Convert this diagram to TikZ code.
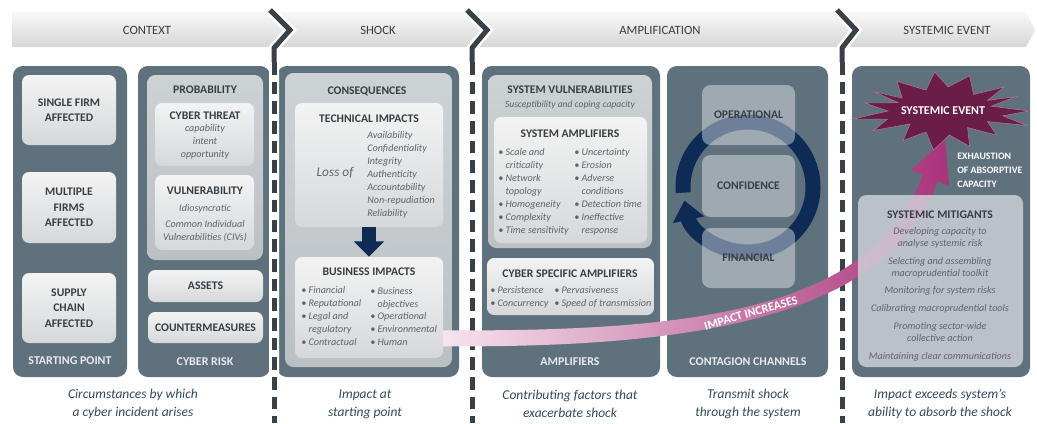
\documentclass[tikz,border=0pt]{standalone}
\usepackage{fontspec}
\setmainfont{Carlito}
\usetikzlibrary{arrows.meta,calc}

\definecolor{slate}{HTML}{5F717D}
\definecolor{boxtop}{HTML}{F3F3F3}
\definecolor{boxbot}{HTML}{D5D8DA}
\definecolor{midtop}{HTML}{CDD2D5}
\definecolor{midbot}{HTML}{BAC0C4}
\definecolor{mitfill}{HTML}{D3D7DA}
\definecolor{navyc}{HTML}{0D2B55}
\definecolor{burstc}{HTML}{6A1D46}
\definecolor{pinklight}{HTML}{F7E3EE}
\definecolor{pinkmid}{HTML}{DB93BD}
\definecolor{pinkdark}{HTML}{A8337A}
\definecolor{titletext}{HTML}{373E44}
\definecolor{itemtext}{HTML}{5E6469}
\definecolor{labeltext}{HTML}{E9ECEE}
\definecolor{captext}{HTML}{34495F}
\definecolor{chev}{HTML}{394047}
\definecolor{bantop}{HTML}{F8F8F8}
\definecolor{banbot}{HTML}{D6D6D6}

\newcommand{\pu}{0.025cm}
\newcommand{\bu}{\textbullet\ }
\newcommand{\bi}{\hphantom{\textbullet\ }}

\tikzset{
  panel/.style={fill=slate,rounded corners=7pt},
  lightbox/.style={top color=boxtop,bottom color=boxbot,rounded corners=5pt,inner sep=0pt},
  midbox/.style={top color=midtop,bottom color=midbot,rounded corners=6pt,inner sep=0pt},
  glassbox/.style={fill=white,fill opacity=0.4,text opacity=1,rounded corners=6pt,
    minimum width=93*\pu,minimum height=60*\pu,inner sep=0pt,
    font=\fontsize{8.3}{11}\selectfont\bfseries,text=titletext},
  ttl/.style={font=\fontsize{8.3}{11}\selectfont\bfseries,text=titletext,align=center,inner sep=0pt},
  itm/.style={font=\fontsize{7.2}{9.2}\selectfont\itshape,text=itemtext,align=center,inner sep=0pt},
  lst/.style={itm,align=left,anchor=west},
  plabel/.style={font=\fontsize{8.5}{11}\selectfont\bfseries,text=labeltext,inner sep=0pt},
  bandtext/.style={font=\fontsize{9}{11}\selectfont,text=titletext,inner sep=0pt},
  capt/.style={font=\fontsize{9.6}{12.8}\selectfont\itshape,text=captext,align=center,inner sep=0pt},
  whitetext/.style={font=\fontsize{8}{10}\selectfont\bfseries,text=white,inner sep=0pt},
  chevline/.style={chev,line width=5*\pu,line join=miter},
  chevback/.style={white,line width=10*\pu,line join=miter},
  divider/.style={chev,line width=5*\pu,dash pattern=on 9pt off 5pt},
}

\begin{document}
\begin{tikzpicture}[x=0.025cm,y=-0.025cm]
  \useasboundingbox (0,0) rectangle (1037,423);

  % banner
  \shade[top color=bantop,bottom color=banbot] (12,12)--(1026,12)--(1035,30)--(1026,47)--(12,47)--cycle;
  \node[bandtext] (context) at (147,30) {CONTEXT};
  \node[bandtext] (shock) at (378,30) {SHOCK};
  \node[bandtext] (amplification) at (660,30) {AMPLIFICATION};
  \node[bandtext] (sysevent) at (947,30) {SYSTEMIC EVENT};

  % panels
  \fill[panel] (13,66) rectangle (127,377);
  \fill[panel] (138,66) rectangle (270,377);
  \fill[panel] (277,66) rectangle (459,377);
  \fill[panel] (482,66) rectangle (660,377);
  \fill[panel] (667,66) rectangle (828,377);
  \fill[panel] (852,66) rectangle (1030,377);

  % dividers
  \draw[chevback] (270,10)--(290,30)--(274,48)--(274,423);
  \draw[chevline] (270,10)--(290,30)--(274,48)--(274,62);
  \draw[divider] (274,62)--(274,423);
  \draw[chevback] (467,10)--(487,30)--(472,48)--(472,423);
  \draw[chevline] (467,10)--(487,30)--(472,48)--(472,62);
  \draw[divider] (472,62)--(472,423);
  \draw[chevback] (837,10)--(856,30)--(842,48)--(842,423);
  \draw[chevline] (837,10)--(856,30)--(842,48)--(842,62);
  \draw[divider] (842,62)--(842,423);

  % starting point
  \node[lightbox,ttl,minimum width=94*\pu,minimum height=70*\pu] (single) at (69,110) {SINGLE FIRM\\AFFECTED};
  \node[lightbox,ttl,minimum width=94*\pu,minimum height=71*\pu] (multiple) at (69,207.5) {MULTIPLE\\FIRMS\\AFFECTED};
  \node[lightbox,ttl,minimum width=94*\pu,minimum height=70*\pu] (supply) at (69,308) {SUPPLY\\CHAIN\\AFFECTED};
  \node[plabel] (startlabel) at (70,361) {STARTING POINT};

  % cyber risk
  \node[midbox,minimum width=116*\pu,minimum height=185*\pu] (prob) at (205,167.5) {};
  \node[ttl] (prob-title) at (205,90) {PROBABILITY};
  \node[lightbox,minimum width=99*\pu,minimum height=63*\pu] (threat) at (204.5,134.5) {};
  \node[ttl] (threat-title) at (205,116) {CYBER THREAT};
  \node[itm] (threat-list) at (205,142) {capability\\intent\\opportunity};
  \node[lightbox,minimum width=99*\pu,minimum height=75*\pu] (vuln) at (204.5,212.5) {};
  \node[ttl] (vuln-title) at (205,191) {VULNERABILITY};
  \node[itm] (vuln-list) at (205,209) {Idiosyncratic};
  \node[itm] (vuln-civ) at (205,231.5) {Common Individual\\Vulnerabilities (CIVs)};
  \node[lightbox,ttl,minimum width=115*\pu,minimum height=32*\pu] (assets) at (205.5,286) {ASSETS};
  \node[lightbox,ttl,minimum width=115*\pu,minimum height=31*\pu] (counter) at (205.5,327.5) {COUNTERMEASURES};
  \node[plabel] (risklabel) at (205,362) {CYBER RISK};

  % shock
  \node[midbox,minimum width=167*\pu,minimum height=294*\pu] (cons) at (368.5,220) {};
  \node[ttl] (cons-title) at (367,91) {CONSEQUENCES};
  \node[lightbox,minimum width=148*\pu,minimum height=124*\pu] (tech) at (369,165) {};
  \node[ttl] (tech-title) at (369,119) {TECHNICAL IMPACTS};
  \node[itm,font=\fontsize{9.5}{11}\selectfont\itshape] (lossof) at (335,173) {Loss of};
  \node[lst] (tech-list) at (367,174.5) {Availability\\Confidentiality\\Integrity\\Authenticity\\Accountability\\Non-repudiation\\Reliability};
  \node[lightbox,minimum width=148*\pu,minimum height=101*\pu] (bus) at (369,307.5) {};
  \node[ttl] (bus-title) at (369,272) {BUSINESS IMPACTS};
  \node[lst] (bus-left) at (301,316) {\bu Financial\\\bu Reputational\\\bu Legal and\\\bi regulatory\\\bu Contractual};
  \node[lst] (bus-right) at (370,316.5) {\bu Business\\\bi objectives\\\bu Operational\\\bu Environmental\\\bu Human};
  \draw[navyc,line width=14*\pu,-{Triangle[width=21pt,length=11pt]}] (tech.south) -- (bus.north);

  % amplifiers
  \node[midbox,minimum width=164*\pu,minimum height=173*\pu] (sysvul) at (570,161.5) {};
  \node[ttl] (sysvul-title) at (570,90) {SYSTEM VULNERABILITIES};
  \node[itm,font=\fontsize{6.8}{9}\selectfont\itshape] (sysvul-sub) at (570,105) {Susceptibility and coping capacity};
  \node[lightbox,minimum width=153*\pu,minimum height=126*\pu] (sysamp) at (570.5,180) {};
  \node[ttl] (sysamp-title) at (570,134) {SYSTEM AMPLIFIERS};
  \node[lst] (sysamp-left) at (498,192) {\bu Scale and\\\bi criticality\\\bu Network\\\bi topology\\\bu Homogeneity\\\bu Complexity\\\bu Time sensitivity};
  \node[lst] (sysamp-right) at (574,192) {\bu Uncertainty\\\bu Erosion\\\bu Adverse\\\bi conditions\\\bu Detection time\\\bu Ineffective\\\bi response};
  \node[lightbox,minimum width=167*\pu,minimum height=57*\pu] (cyberamp) at (570.5,286.5) {};
  \node[ttl] (cyberamp-title) at (570,274) {CYBER SPECIFIC AMPLIFIERS};
  \node[lst] (cyberamp-left) at (490,297.5) {\bu Persistence\\\bu Concurrency};
  \node[lst] (cyberamp-right) at (554,297.5) {\bu Pervasiveness\\\bu Speed of transmission};
  \node[plabel] (amplabel) at (570,362) {AMPLIFIERS};

  % contagion channels
  \draw[navyc,line width=15*\pu,-{Triangle[width=22pt,length=14pt]}] (748,187) ++(175:65) arc[start angle=175,end angle=528,radius=65];
  \node[glassbox] (oper) at (748.5,115) {OPERATIONAL};
  \node[glassbox,minimum height=62*\pu] (conf) at (748.5,186) {CONFIDENCE};
  \node[glassbox] (fin) at (748.5,258) {FINANCIAL};
  \node[plabel] (chanlabel) at (748,362) {CONTAGION CHANNELS};

  % systemic event
  \coordinate (event) at (943,111);
  \coordinate (imp-a) at ($(bus.south east)+(0,-28)$);
  \coordinate (imp-b) at ($(bus.south east)+(0,-12)$);
  \coordinate (imp-tip) at ($(event)+(2,28)$);
  \shade[left color=pinklight,middle color=pinkmid,right color=pinkdark]
    (imp-a) .. controls (700,332) and (874,308) .. (922.6,175) -- (911,170) -- (imp-tip)
    -- (949,186) -- (937.4,181) .. controls (890,316) and (700,348) .. (imp-b) -- cycle;
  \node[whitetext,font=\fontsize{8.6}{10}\selectfont\bfseries,rotate=16] (impact) at (751,313) {IMPACT INCREASES};

  \node[fill=mitfill,fill opacity=0.8,rounded corners=6pt,minimum width=165*\pu,minimum height=172*\pu] (mitig) at (940.5,281) {};
  \node[ttl] (mitig-title) at (940,215) {SYSTEMIC MITIGANTS};
  \node[itm,font=\fontsize{7.2}{8.5}\selectfont\itshape] (mitig-list) at (940,294.5) {Developing capacity to\\analyse systemic risk\\[3.9pt]Selecting and assembling\\macroprudential toolkit\\[3.9pt]Monitoring for system risks\\[4.5pt]Calibrating macroprudential tools\\[3.9pt]Promoting sector-wide\\collective action\\[4.5pt]Maintaining clear communications};

  \fill[burstc,draw=burstc!60!white,line width=0.4pt] plot[samples at={0,12,...,348},variable=\t]
    ({943+86*(1-0.36*mod(\t/12,2)+0.08*sin(5*\t))*cos(\t)},{111+36*(1-0.42*mod(\t/12,2)+0.1*cos(4*\t))*sin(\t)}) -- cycle;
  \node[whitetext,font=\fontsize{8.5}{11}\selectfont\bfseries] (event-label) at (event) {SYSTEMIC EVENT};
  \node[whitetext,font=\fontsize{7}{10}\selectfont\bfseries,align=left,anchor=west] (exhaust) at (957,170) {EXHAUSTION\\OF ABSORPTIVE\\CAPACITY};

  % captions
  \node[capt] (cap-context) at (133,404) {Circumstances by which\\a cyber incident arises};
  \node[capt] (cap-shock) at (365,404) {Impact at\\starting point};
  \node[capt] (cap-amp) at (570,404) {Contributing factors that\\exacerbate shock};
  \node[capt] (cap-chan) at (748,404) {Transmit shock\\through the system};
  \node[capt] (cap-event) at (940,404) {Impact exceeds system's\\ability to absorb the shock};
\end{tikzpicture}
\end{document}
